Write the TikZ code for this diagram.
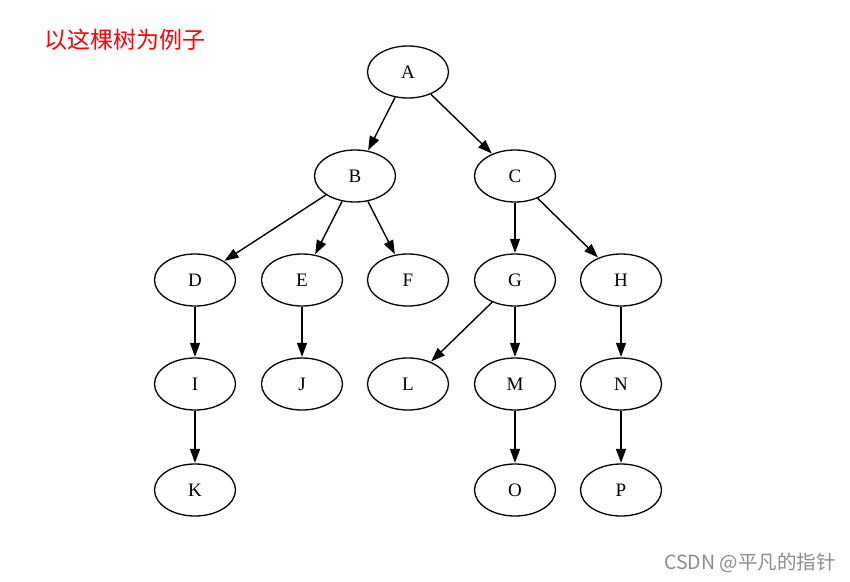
\documentclass[tikz,border=0pt]{standalone}
\usepackage{fontspec}
\setmainfont{Liberation Serif}
\newfontfamily\cjk{Noto Sans CJK SC}
\usetikzlibrary{shapes.geometric,arrows.meta}
\begin{document}
\begin{tikzpicture}[x=1pt,y=-1pt,
  tnode/.style={ellipse,draw,line width=1.3pt,minimum width=81pt,minimum height=52pt,inner sep=0pt,font=\fontsize{19}{21}\selectfont},
  tedge/.style={line width=1.4pt,-{Triangle[length=14pt,width=10pt]},shorten >=0.5pt}]
\useasboundingbox[fill=white] (0,0) rectangle (850,581);
\node[anchor=west,text=red,font=\cjk\fontsize{23}{26}\selectfont,inner sep=0pt] (title) at (44,40) {以这棵树为例子};
\node[anchor=east,text=black!45,font=\cjk\fontsize{19.5}{22}\selectfont,inner sep=0pt] (wm) at (836,563) {CSDN @平凡的指针};
\node[tnode] (A) at (408,72) {A};
\node[tnode] (B) at (355,176) {B};
\node[tnode] (C) at (515,176) {C};
\node[tnode] (D) at (195,280) {D};
\node[tnode] (E) at (302,280) {E};
\node[tnode] (F) at (408,280) {F};
\node[tnode] (G) at (515,280) {G};
\node[tnode] (H) at (621,280) {H};
\node[tnode] (I) at (195,384) {I};
\node[tnode] (J) at (302,384) {J};
\node[tnode] (L) at (408,384) {L};
\node[tnode] (M) at (515,384) {M};
\node[tnode] (N) at (621,384) {N};
\node[tnode] (K) at (195,490) {K};
\node[tnode] (O) at (515,490) {O};
\node[tnode] (P) at (621,490) {P};
\foreach \a/\b in {A/B,A/C,B/D,B/E,B/F,C/G,C/H,D/I,E/J,G/L,G/M,H/N,I/K,M/O,N/P}
  \draw[tedge] (\a) -- (\b);
\end{tikzpicture}
\end{document}
